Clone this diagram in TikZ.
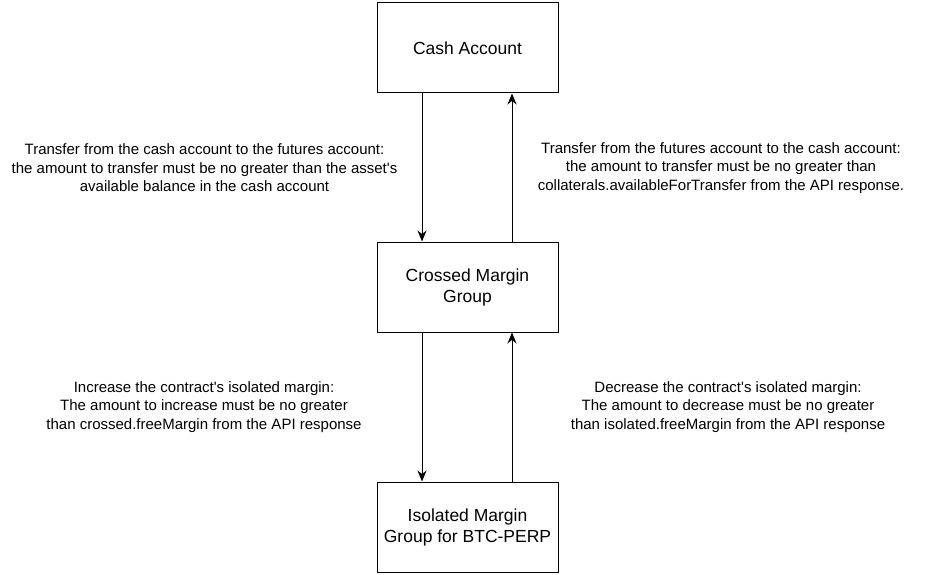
\documentclass[tikz,border=0pt]{standalone}
\usepackage{fontspec}
\setmainfont{Liberation Sans}
\usetikzlibrary{arrows.meta}

\tikzset{
    acct/.style={draw,line width=1pt,minimum width=181pt,minimum height=90pt,
        align=center,font=\fontsize{17.5}{21}\selectfont},
    note/.style={align=center,font=\fontsize{15}{18.5}\selectfont},
    move/.style={line width=1pt,-{Stealth[length=11pt,width=9pt]}}
}

\begin{document}
\begin{tikzpicture}[x=1pt,y=-1pt]
            \useasboundingbox (0,0) rectangle (935,575);
            \node[acct] (cash) at (467.5,48) {Cash Account};
            \node[acct] (crossed) at (467.5,287) {Crossed Margin\\Group};
            \node[acct] (isolated) at (467.5,527) {Isolated Margin\\Group for BTC-PERP};
            \draw[move] ([xshift=-45.5pt]cash.south) -- ([xshift=-45.5pt]crossed.north);
            \draw[move] ([xshift=44.5pt]crossed.north) -- ([xshift=44.5pt]cash.south);
            \draw[move] ([xshift=-45.5pt]crossed.south) -- ([xshift=-45.5pt]isolated.north);
            \draw[move] ([xshift=44.5pt]isolated.north) -- ([xshift=44.5pt]crossed.south);
            \node[note] (tofut) at (204.5,168) {Transfer from the cash account to the futures account:\\the amount to transfer must be no greater than the asset\textquotesingle s\\available balance in the cash account};
            \node[note] (tocash) at (721,168) {Transfer from the futures account to the cash account:\\the amount to transfer must be no greater than\\collaterals.availableForTransfer from the API response.};
            \node[note] (incr) at (204,407) {Increase the contract\textquotesingle s isolated margin:\\The amount to increase must be no greater\\than crossed.freeMargin from the API response};
            \node[note] (decr) at (728,407) {Decrease the contract\textquotesingle s isolated margin:\\The amount to decrease must be no greater\\than isolated.freeMargin from the API response};
        \end{tikzpicture}
\end{document}
